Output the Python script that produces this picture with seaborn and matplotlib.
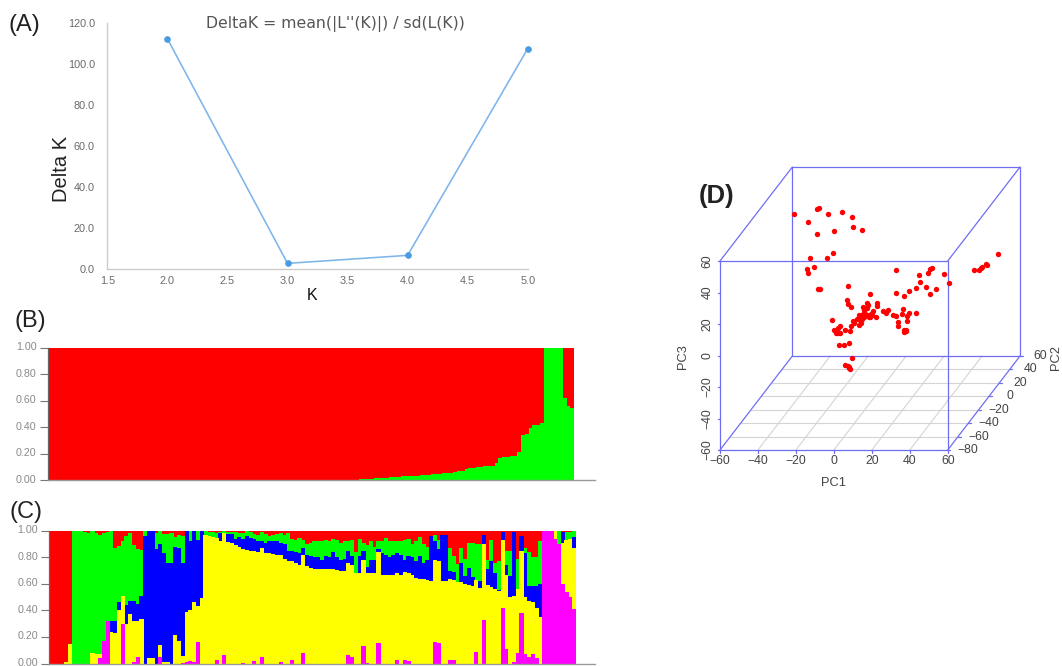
import numpy as np
import pandas as pd
import seaborn as sns
import matplotlib
matplotlib.use("Agg")
import matplotlib.pyplot as plt
from matplotlib.transforms import ScaledTranslation

# ---------- Panel A ----------
k_values = [2.0, 3.0, 4.0, 5.0]
delta_k = [112.4, 2.9, 6.8, 107.6]
a_xticks = [1.5, 2.0, 2.5, 3.0, 3.5, 4.0, 4.5, 5.0]
a_yticks = [0, 20, 40, 60, 80, 100, 120]

# ---------- Panel B: green share per individual ----------
b_green = [0.0] * 74 + [
    .003, .003, .003, .003, .003, .003, .004, .004,
    .006, .007, .008, .009, .012, .015, .017, .018, .020, .023,
    .026, .027, .029, .030, .032, .034, .036, .039, .041, .043,
    .045, .046, .050, .054, .056, .058, .062, .067, .072, .085,
    .090, .095, .100, .102, .105, .108, .110, .130, .165, .175,
    .178, .180, .182, .210, .345, .350, .395, .415, .420, .435,
    1.0, 1.0, 1.0, 1.0, 1.0, .62, .56, .545]

# ---------- Panel C: cumulative tops of each cluster per individual ----------
c_magenta = [
    0, 0, 0, 0, 0, 0, 0, 0, 0, 0,
    0, 0, 0, .04, .17, .32, 0, 0, 0, .30,
    0, 0, .01, .05, 0, 0, 0, 0, 0, .05,
    0, 0, 0, 0, 0, .005, .015, .02, .015, .165,
    0, 0, 0, 0, .03, 0, .065, 0, 0, 0,
    0, .005, 0, 0, .02, 0, .05, 0, 0, 0,
    0, .01, 0, 0, .025, 0, 0, .08, 0, 0,
    0, 0, 0, 0, 0, 0, 0, 0, 0, .065,
    .05, 0, 0, .13, .005, 0, 0, .155, 0, 0,
    0, 0, .03, 0, .025, .02, 0, 0, 0, 0,
    0, 0, .16, .155, 0, 0, .03, .025, 0, 0,
    0, 0, 0, .085, 0, .325, 0, 0, 0, 0,
    .42, .11, 0, .015, .08, .38, .07, .05, .07, .04,
    0, 1, 1, 1, .94, .90, .60, .54, .50, .41]
c_yellow = [
    0, 0, 0, 0, .01, .15, 0, 0, 0, 0,
    0, .08, .07, .07, .17, .32, .235, .23, .40, .51,
    .30, .37, .32, .32, .335, 0, .045, .04, 0, .14,
    .01, .01, 0, .215, .17, .06, .39, .40, .465, .43,
    .495, .97, .96, .955, .945, .925, .985, .915, .905, .89,
    .875, .865, .855, .85, .85, .84, .87, .835, .83, .825,
    .82, .815, .79, .775, .77, .76, .745, .82, .735, .72,
    .715, .715, .71, .71, .71, .71, .705, .70, .70, .755,
    .745, .68, .68, .78, .68, .68, .68, .84, .67, .665,
    .665, .665, .68, .665, .69, .68, .67, .645, .64, .635,
    .63, .625, .78, .77, .62, .62, .64, .63, .61, .61,
    .60, .59, .58, .63, .565, .90, .59, .575, .56, .545,
    .93, .67, .50, .51, .56, .85, .50, .47, .46, .42,
    .35, 1, 1, 1, 1, .90, .905, .93, .94, .87]
c_blue = [
    0, 0, 0, 0, .01, .15, 0, 0, 0, 0,
    0, .08, .07, .07, .17, .32, .32, .32, .46, .51,
    .44, .47, .47, .45, .505, .96, 1, 1, .86, .90,
    .83, .76, .755, .88, .87, .755, 1, .92, 1, .93,
    1, .97, .96, .955, .945, .985, .985, .975, .975, .94,
    .95, .94, .96, .945, .935, .92, .92, .905, .92, .925,
    .92, .91, .90, .85, .85, .84, .83, .87, .82, .81,
    .80, .80, .78, .81, .80, .84, .80, .78, .79, .845,
    .81, .68, .81, .85, .73, .78, .78, .86, .83, .82,
    .80, .82, .83, .82, .78, .81, .80, .77, .81, .76,
    .78, .96, .92, .86, .97, .97, .70, .69, .61, .755,
    .66, .72, .65, .63, .62, .965, .71, .77, .68, .55,
    .99, .74, .66, .99, .56, .96, .83, .58, .58, .58,
    .60, 1, 1, 1, 1, .90, .99, .93, .94, .95]
c_green = [
    0, 0, 0, 0, .01, .15, .995, .995, .995, .99,
    .985, .995, .985, .965, .985, .99, .995, .87, .885, .92,
    .96, .985, .895, .86, .855, .995, 1, 1, .985, 1,
    .975, .975, .98, .955, .97, .96, 1, 1, 1, 1,
    1, .995, .99, .99, .985, .99, .995, .99, .99, .99,
    .985, .98, .995, .99, .975, .97, .99, .975, .96, .965,
    .975, .98, .97, .98, .94, .93, .945, .93, .90, .91,
    .925, .92, .925, .93, .92, .94, .93, .91, .925, .925,
    .93, .84, .94, .91, .89, .92, .88, .92, .92, .945,
    .92, .92, .92, .925, .93, .94, .90, .92, .95, .90,
    .875, .96, .97, .93, .97, .97, .87, .81, .75, .87,
    .79, .905, .91, .90, .90, .965, .78, .93, .76, .77,
    .99, .85, .85, .99, .79, .96, .87, .84, .80, .80,
    .92, 1, 1, 1, 1, 1, .99, .99, .99, 1]
bar_yticks = [0.0, 0.2, 0.4, 0.6, 0.8, 1.0]

# ---------- Panel D: PCA scores ----------
pc1 = [-49.4, -37.4, -36.6, -31.5, -24.3, -19.2, -42.0, -18.6, -13.5, -28.6, -37.6, -29.3, -32.2, -41.3, -38.8, -42.9, -42.3, -37.1, -36.0,
       13.5, -11.4, -0.2, -11.9, -11.8, -10.2, 13.7, 17.9, 20.6, 24.4, 26.4, 25.8, 29.3, 31.6, 34.6, 30.7, 31.6, 32.5, 38.8, 41.5,
       -19.8, -15.8, -16.7, -19.0, -18.1, -17.0, -15.8, -13.2, -10.5, -9.8, -9.0, -8.3, -6.0, -5.4, -4.6, -5.6, -3.9, -3.0, -3.5, -1.8, -0.9,
       -3.0, -1.8, -0.5, 1.1, 1.8, 0.5, 3.0, 3.5, 3.9, 6.7, 8.3, 9.3, 12.3, 13.5, 17.0, 17.4, 14.6, 14.9, 19.5, 20.4, 24.1, 19.7, 18.1, 18.8, 18.1, 19.0,
       -4.4, -2.6, 0.0, -1.8, -4.9, -7.0,
       -6.8, -4.0, -1.6, 0.2, -3.8, -2.1, -1.6, -1.0, -1.7,
       40.3, 43.1, 44.0, 44.6, 46.7, 47.2, 53.3]
pc2 = [25.0] * 19 + [-10.0] * 73 + [-45.0] * 9 + [42.5] * 7
pc3 = [44.9, 48.1, 48.9, 45.3, 46.6, 43.4, 39.8, 36.9, 34.7, 34.3, 32.2, 20.4, 17.4, 17.0, 11.7, 10.2, 7.9, -2.3, -2.3,
       24.2, 14.5, 9.4, 5.2, 3.1, 1.2, 9.6, 8.0, 10.9, 12.8, 16.8, 21.1, 13.5, 9.2, 12.4, 22.6, 25.3, 25.7, 21.7, 16.4,
       -7.5, -10.9, -12.2, -13.8, -15.3, -15.8, -15.8, -13.6, -14.3, -10.9, -8.1, -9.2, -10.5, -7.3, -5.2, -4.1, -3.5, -0.9, 1.2, 3.7, 2.2,
       -5.2, -4.1, -5.6, -4.3, -1.4, -3.5, -5.6, 3.3, 1.6, -1.6, -3.1, -0.9, -4.1, -4.7, -3.7, -0.5, -8.3, -11.3, -8.1, -3.1, -2.6, -4.5, -13.6, -13.6, -14.7, -14.5,
       -6.9, -3.5, -5.2, 0.1, -9.0, -6.9,
       -8.5, -8.3, -6.8, -16.5, -21.0, -21.4, -23.1, -23.7, -22.0,
       1.8, 1.8, 3.3, 4.2, 6.1, 5.0, 12.2]
pc1_ticks = [-60, -40, -20, 0, 20, 40, 60]
pc2_ticks = [-80, -60, -40, -20, 0, 20, 40, 60]
pc3_ticks = [-60, -40, -20, 0, 20, 40, 60]

# ---------- Figure ----------
W, H = 1062, 666
sns.set_theme(style="white")
plt.rcParams['font.family'] = ['Liberation Sans', 'DejaVu Sans']
fig = plt.figure(figsize=(W / 100, H / 100), dpi=100)


def axes_px(left, top, right, bottom):
    return fig.add_axes([left / W, 1 - bottom / H, (right - left) / W, (bottom - top) / H])


# Panel A
ax = axes_px(107.4, 23.3, 527.7, 269.3)
sns.lineplot(x=k_values, y=delta_k, ax=ax, color="#7db5ea", linewidth=1.15, marker="o",
             markersize=4, markerfacecolor="#4a9be2", markeredgecolor="#4a9be2", errorbar=None)
ax.set_xlim(1.5, 5.0)
ax.set_ylim(0, 120)
ax.set_xticks(a_xticks, [f"{v:.1f}" for v in a_xticks])
ax.set_yticks(a_yticks, [f"{v:.1f}" for v in a_yticks])
ax.tick_params(axis='both', length=0, labelsize=7.8, labelcolor="#6a6a6a")
ax.tick_params(axis='x', pad=5)
ax.tick_params(axis='y', pad=9)
for s in ['top', 'right']:
    ax.spines[s].set_visible(False)
for s in ['left', 'bottom']:
    ax.spines[s].set_color("#cccccc")
    ax.spines[s].set_linewidth(1)
ax.patch.set_alpha(0)
for sp in ax.lines:
    sp.set_clip_on(False)
fig.text(335.5 / W, 1 - 24 / H, "DeltaK = mean(|L''(K)|) / sd(L(K))", ha='center', va='center',
         fontsize=11.3, color="#555555", family='DejaVu Sans')
fig.text(61.5 / W, 1 - 169 / H, "Delta K", rotation=90, ha='center', va='center', fontsize=14.5, color="#222222")
fig.text(311.7 / W, 1 - 295.5 / H, "K", ha='center', va='center', fontsize=11.5, color="#111111")
fig.text(9 / W, 1 - 25 / H, "(A)", ha='left', va='center', fontsize=17, color="#222222")
fig.text(14 / W, 1 - 321 / H, "(B)", ha='left', va='center', fontsize=17, color="#222222")
fig.text(9.5 / W, 1 - 512 / H, "(C)", ha='left', va='center', fontsize=17, color="#222222")
fig.text(699 / W, 1 - 196.5 / H, "(D)", ha='left', va='center', fontsize=18.5, fontweight='bold', color="#222222")

BAR_WIDTH = 1.12  # slight overlap so neighbouring bars leave no seams


def style_bar_axes(a, left_px, pitch):
    for patch in a.patches:
        patch.set_antialiased(False)
    a.set_ylim(0, 1)
    a.set_xlim(-0.5, (595 - left_px) / pitch - 0.5)
    a.set_xticks([])
    a.set_xlabel("")
    a.set_ylabel("")
    a.set_yticks(bar_yticks, [f"{v:.2f}" for v in bar_yticks])
    a.tick_params(axis='y', length=6, width=0.8, color="#777777", labelsize=7.7,
                  labelcolor="#8a8a8a", pad=2, left=True)
    shift = ScaledTranslation(0, 1.5 / 100, fig.dpi_scale_trans)
    for lab in a.get_yticklabels():
        lab.set_transform(lab.get_transform() + shift)
    a.spines['top'].set_visible(False)
    a.spines['right'].set_visible(False)
    a.spines['left'].set_color("#666666")
    a.spines['bottom'].set_color("#999999")
    a.spines['left'].set_linewidth(0.9)
    a.spines['bottom'].set_linewidth(1.0)


# Panel B
ax = axes_px(47.5, 347.7, 595, 480.3)
idx = np.arange(len(b_green))
sns.barplot(x=idx, y=np.ones(len(b_green)), color="#ff0000", width=BAR_WIDTH, saturation=1, linewidth=0, ax=ax)
sns.barplot(x=idx, y=b_green, color="#00ff00", width=BAR_WIDTH, saturation=1, linewidth=0, ax=ax)
style_bar_axes(ax, 47.5, 3.76)

# Panel C
ax = axes_px(49.3, 530.7, 595, 663.5)
idx = np.arange(len(c_green))
layers = [(np.ones(len(c_green)), "#ff0000"), (c_green, "#00ff00"), (c_blue, "#0000ff"),
          (c_yellow, "#ffff00"), (c_magenta, "#ff00ff")]
for vals, col in layers:
    sns.barplot(x=idx, y=vals, color=col, width=BAR_WIDTH, saturation=1, linewidth=0, ax=ax)
style_bar_axes(ax, 49.3, 3.762)

# Panel D: oblique projection into a figure-wide pixel axes
axd = fig.add_axes([0, 0, 1, 1], zorder=5)
axd.set_xlim(0, W)
axd.set_ylim(H, 0)
axd.axis('off')
axd.patch.set_alpha(0)


def proj(x, y, z):
    x, y, z = np.asarray(x, float), np.asarray(y, float), np.asarray(z, float)
    return (720 + (x + 60) * 1.8975 + (y + 80) * 0.5167,
            450 - (z + 60) * 1.575 - (y + 80) * 0.6714)


def seg(p, q, **kw):
    sx, sy = proj([p[0], q[0]], [p[1], q[1]], [p[2], q[2]])
    axd.plot(sx, sy, **kw)


grid_kw = dict(color="#d4d4d4", lw=0.8, zorder=1)
for v in pc1_ticks[1:-1]:
    seg((v, -80, -60), (v, 60, -60), **grid_kw)
for v in pc2_ticks[1:-1]:
    seg((-60, v, -60), (60, v, -60), **grid_kw)

box_kw = dict(color="#6e6ef5", lw=0.9, zorder=2)
X0, X1, Y0, Y1, Z0, Z1 = -60, 60, -80, 60, -60, 60
for p, q in [((X0, Y0, Z0), (X1, Y0, Z0)), ((X1, Y0, Z0), (X1, Y0, Z1)), ((X1, Y0, Z1), (X0, Y0, Z1)),
             ((X0, Y0, Z1), (X0, Y0, Z0)), ((X0, Y1, Z0), (X1, Y1, Z0)), ((X1, Y1, Z0), (X1, Y1, Z1)),
             ((X1, Y1, Z1), (X0, Y1, Z1)), ((X0, Y1, Z1), (X0, Y1, Z0)), ((X0, Y0, Z0), (X0, Y1, Z0)),
             ((X1, Y0, Z0), (X1, Y1, Z0)), ((X1, Y0, Z1), (X1, Y1, Z1)), ((X0, Y0, Z1), (X0, Y1, Z1))]:
    seg(p, q, **box_kw)

txt_kw = dict(fontsize=8.8, color="#444444", ha='center', va='center')
for v in pc1_ticks:
    sx, sy = proj(v, Y0, Z0)
    axd.plot([sx, sx], [sy, sy + 2.5], **box_kw)
    axd.text(sx, 461, f"\u2212{abs(v)}" if v < 0 else f"{v}", **txt_kw)
for v in pc3_ticks:
    sx, sy = proj(X0, Y0, v)
    axd.plot([sx - 2.5, sx], [sy, sy], **box_kw)
    axd.text(707.5, sy, f"\u2212{abs(v)}" if v < 0 else f"{v}", rotation=90, **txt_kw)
for v in pc2_ticks:
    sx, sy = proj(X1, v, Z0)
    axd.plot([sx, sx + 2.5], [sy, sy], **box_kw)
    axd.text(sx + 20.5, sy, f"\u2212{abs(v)}" if v < 0 else f"{v}", **txt_kw)
axd.text(833, 483, "PC1", **{**txt_kw, 'fontsize': 9.3})
axd.text(683, 357, "PC3", rotation=90, **{**txt_kw, 'fontsize': 9.3})
axd.text(1056, 357, "PC2", rotation=90, **{**txt_kw, 'fontsize': 9.3})

px, py = proj(pc1, pc2, pc3)
scores = pd.DataFrame({"sx": px, "sy": py})
sns.scatterplot(data=scores, x="sx", y="sy", ax=axd, color="#ff0000", s=15, linewidth=0, zorder=4, legend=False)
axd.set_xlim(0, W)
axd.set_ylim(H, 0)
axd.axis('off')

fig.savefig("out.png", dpi=100)
